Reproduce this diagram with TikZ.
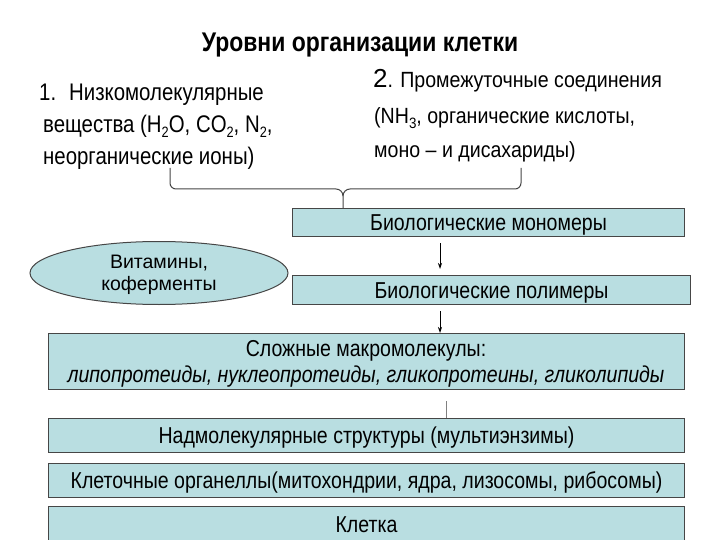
\documentclass[tikz,border=0pt]{standalone}
\usepackage{fontspec}
\setmainfont{Liberation Sans}
\newfontfamily\leftfont{Liberation Sans}[FakeStretch=0.85]
\newfontfamily\rightfont{Liberation Sans}[FakeStretch=0.89]
\newfontfamily\boxfont{Liberation Sans}[FakeStretch=0.85]
\usetikzlibrary{arrows.meta,shapes.geometric}
\definecolor{boxfill}{RGB}{185,222,225}
\definecolor{edgecol}{RGB}{70,70,70}
\newcommand\sbs[1]{\raisebox{-5pt}{\fontsize{15}{15}\selectfont #1}}
\tikzset{
  box/.style={draw=edgecol, fill=boxfill, line width=1pt, rectangle, inner sep=0pt,
              anchor=north west, text height=16pt, text depth=0pt,
              font=\boxfont\fontsize{23}{26}\selectfont},
  lbl/.style={anchor=base, inner sep=0pt},
  toptext/.style={anchor=base west, inner sep=0pt},
  lefttxt/.style={toptext, font=\leftfont\fontsize{24}{28}\selectfont},
  righttxt/.style={toptext, font=\rightfont\fontsize{22}{26}\selectfont},
  arr/.style={draw=black, line width=0.8pt, -{Stealth[length=6pt,width=4pt]}},
  brace/.style={draw=edgecol, line width=1pt},
}
\begin{document}
\begin{tikzpicture}[x=1pt,y=-1pt]
\useasboundingbox (0,0) rectangle (720,540);
\fill[white] (0,0) rectangle (720,540);

% title
\node[lbl, font=\leftfont\bfseries\fontsize{27}{30}\selectfont] (title) at (360,52) {Уровни организации клетки};

% left text
\node[lefttxt] (l1a) at (39,101) {1.};
\node[lefttxt] (l1b) at (69,101) {Низкомолекулярные};
\node[lefttxt] (l2) at (43,133) {вещества (H\sbs{2}O, CO\sbs{2}, N\sbs{2},};
\node[lefttxt] (l3) at (43,165) {неорганические ионы)};

% right text
\node[righttxt] (r1) at (373,88) {{\rmfamily\fontsize{26}{26}\selectfont 2}. Промежуточные соединения};
\node[righttxt] (r2) at (374,124) {(NH\sbs{3}, органические кислоты,};
\node[righttxt] (r3) at (374,158) {моно – и дисахариды)};

% boxes
\node[box, minimum width=392pt, minimum height=28pt] (b1) at (292,208) {Биологические мономеры};
\node[box, minimum width=398pt, minimum height=29pt] (b2) at (292,275) {Биологические полимеры};
\node[box, minimum width=636pt, minimum height=56pt] (b3) at (48,333) {};
\node[lbl, font=\boxfont\fontsize{23}{26}\selectfont] (b3a) at (366,356) {Сложные макромолекулы:};
\node[lbl, font=\boxfont\itshape\fontsize{23}{26}\selectfont] (b3b) at (366,382) {липопротеиды, нуклеопротеиды, гликопротеины, гликолипиды};
\node[box, minimum width=636pt, minimum height=34pt] (b4) at (48,418) {Надмолекулярные структуры (мультиэнзимы)};
\node[box, minimum width=636pt, minimum height=34pt] (b5) at (48,463) {Клеточные органеллы(митохондрии, ядра, лизосомы, рибосомы)};
\node[box, minimum width=636pt, minimum height=36pt] (b6) at (48,506) {Клетка};

% ellipse
\node[ellipse, draw=edgecol, fill=boxfill, line width=1pt, minimum width=258pt, minimum height=63pt, inner sep=0pt] (vit) at (159,273) {};
\node[lbl, font=\rmfamily\fontsize{19.5}{22}\selectfont] (vita) at (159,268) {Витамины,};
\node[lbl, font=\rmfamily\fontsize{19.5}{22}\selectfont] (vitb) at (159,290) {коферменты};

% brace
\coordinate (bl) at (170,168);
\coordinate (br) at (521,168);
\coordinate (bt) at (343,196);
\draw[brace] (bl) -- (170,183) to[out=-90,in=180] (176,189) -- (336,189) to[out=0,in=90] (bt) -- (bt |- b1.north);
\draw[brace] (br) -- (521,183) to[out=-90,in=0] (515,189) -- (350,189) to[out=180,in=90] (bt);

% connectors
\coordinate (ax1) at (440,0);
\coordinate (ax2) at (446,0);
\draw[arr, shorten <=6pt, shorten >=6pt] (b1.south -| ax1) -- (b2.north -| ax1);
\draw[arr, shorten <=6pt] (b2.south -| ax1) -- (b3.north -| ax1);
\draw[draw=gray, line width=1pt, shorten <=11pt] (b3.south -| ax2) -- (b4.north -| ax2);
\end{tikzpicture}
\end{document}
